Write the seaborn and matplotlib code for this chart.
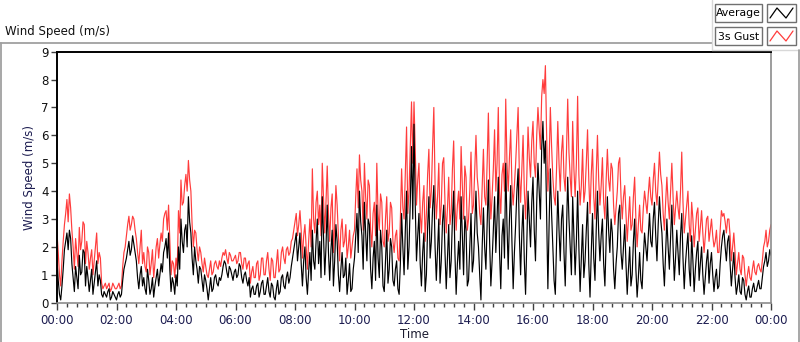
import numpy as np
import pandas as pd
import seaborn as sns
import matplotlib.pyplot as plt
from matplotlib.lines import Line2D
from matplotlib.patches import Rectangle

# ---- data (2.5-minute samples; one row per hour) ----
minutes = np.arange(0, 1440.1, 2.5)

avg = [
    1.5, 0.8, 0.3, 0.1, 0.6, 1.2, 1.9, 2.2, 2.5, 1.9, 2.6, 2.3, 1.4, 0.9, 0.4, 1.3, 0.9, 0.5, 1.7, 1.0, 1.1, 1.9, 1.8, 0.6,
    1.3, 0.9, 0.4, 0.8, 1.2, 0.3, 0.7, 1.1, 1.5, 0.6, 1.0, 0.8, 0.3, 0.2, 0.4, 0.3, 0.2, 0.4, 0.5, 0.1, 0.2, 0.4, 0.3, 0.2,
    0.1, 0.3, 0.4, 0.2, 0.3, 0.8, 1.2, 1.4, 1.6, 1.9, 2.2, 1.7, 1.9, 2.4, 2.1, 1.8, 1.5, 0.9, 0.5, 1.0, 1.3, 0.6, 0.9, 0.5,
    0.3, 1.2, 0.8, 0.3, 0.5, 0.9, 0.2, 0.6, 0.9, 1.2, 0.6, 1.0, 1.4, 1.1, 1.8, 2.0, 2.3, 1.6, 2.5, 1.2, 0.4, 0.9, 0.7, 0.3,
    1.0, 0.6, 2.0, 1.2, 3.0, 2.2, 1.8, 2.6, 2.8, 2.0, 3.8, 2.9, 2.5, 1.6, 1.0, 2.0, 1.5, 1.2, 0.7, 1.3, 1.2, 0.8, 0.4, 1.0,
    0.8, 0.5, 0.1, 0.5, 0.9, 0.4, 0.5, 0.9, 1.0, 0.7, 0.6, 0.9, 0.8, 1.0, 1.3, 1.5, 1.4, 1.1, 0.9, 1.3, 1.2, 1.0, 0.8, 1.1,
    1.2, 0.9, 1.0, 1.4, 1.3, 0.9, 0.7, 1.0, 1.1, 0.8, 0.6, 0.9, 0.2, 0.5, 0.6, 0.3, 0.3, 0.6, 0.7, 0.2, 0.4, 0.7, 0.8, 0.3,
    0.3, 0.6, 0.9, 0.4, 0.2, 0.7, 0.6, 0.2, 0.1, 0.5, 0.8, 0.3, 0.4, 0.9, 1.0, 0.6, 0.5, 0.9, 1.1, 0.7, 0.9, 1.3, 1.6, 1.9,
    2.2, 2.5, 1.5, 2.0, 2.5, 1.4, 0.6, 1.5, 2.0, 0.9, 0.3, 1.1, 1.8, 0.8, 2.6, 1.5, 1.2, 2.2, 3.0, 1.4, 2.2, 0.9, 3.8, 2.4,
    1.0, 2.0, 3.5, 1.8, 0.8, 1.9, 2.6, 0.6, 1.5, 2.8, 2.2, 1.0, 0.4, 1.2, 1.8, 0.9, 1.0, 1.6, 0.3, 0.8, 1.4, 0.4, 0.5, 1.2,
    1.6, 2.4, 3.2, 1.8, 4.0, 2.9, 2.4, 1.2, 3.6, 2.5, 1.5, 3.0, 2.8, 1.2, 0.5, 1.6, 2.2, 0.8, 3.5, 1.6, 0.9, 2.6, 2.0, 0.6,
    0.4, 1.5, 2.6, 0.7, 1.2, 2.3, 2.0, 0.8, 0.6, 1.2, 1.5, 0.5, 0.3, 1.4, 3.2, 2.0, 1.0, 2.6, 4.0, 1.2, 2.0, 3.6, 5.6, 3.0,
    6.4, 3.5, 1.5, 2.4, 3.2, 1.4, 0.6, 1.8, 2.5, 0.4, 1.0, 2.7, 3.8, 1.6, 2.2, 3.4, 4.2, 2.0, 0.8, 1.9, 3.0, 0.7, 1.5, 2.9,
    3.5, 1.8, 0.5, 1.6, 2.8, 0.9, 1.5, 3.0, 4.0, 1.8, 0.3, 1.4, 2.2, 1.2, 3.8, 2.4, 1.0, 3.1, 2.6, 0.6, 0.8, 2.0, 3.2, 1.1,
    1.5, 2.8, 4.0, 2.5, 2.0, 1.0, 0.1, 2.0, 3.4, 2.0, 1.2, 2.8, 4.4, 2.2, 0.6, 1.5, 2.6, 3.8, 1.8, 3.0, 4.5, 1.8, 0.5, 2.4,
    3.0, 1.6, 5.0, 2.8, 1.2, 3.0, 4.2, 2.2, 0.5, 1.8, 2.8, 4.0, 4.8, 2.4, 1.0, 2.5, 3.5, 1.5, 0.3, 2.2, 4.0, 3.0, 2.0, 3.6,
    4.5, 2.6, 1.5, 3.6, 5.0, 4.0, 3.0, 5.5, 6.5, 5.0, 5.8, 3.2, 0.5, 2.8, 4.8, 3.2, 2.0, 0.8, 0.3, 2.2, 4.0, 2.6, 1.5, 3.0,
    3.5, 1.8, 0.6, 2.5, 4.5, 3.0, 2.0, 1.0, 3.8, 2.4, 1.0, 2.2, 4.0, 2.0, 0.4, 1.6, 2.8, 0.9, 1.5, 2.6, 3.6, 1.4, 0.2, 1.8,
    3.2, 1.6, 0.8, 2.6, 4.0, 2.5, 1.5, 2.4, 3.0, 1.4, 0.6, 2.2, 3.8, 2.6, 1.8, 3.0, 2.5, 1.2, 0.5, 1.4, 2.0, 3.2, 3.5, 1.8,
    1.2, 2.0, 2.8, 1.4, 0.3, 1.2, 2.0, 0.6, 1.0, 2.2, 3.0, 1.2, 0.2, 0.9, 1.8, 0.8, 0.5, 1.6, 2.5, 2.0, 1.5, 2.4, 3.2, 2.2,
    2.0, 3.0, 3.6, 2.4, 1.5, 2.8, 3.8, 3.0, 2.5, 1.4, 0.6, 1.8, 3.0, 2.0, 1.2, 2.4, 3.5, 2.0, 0.8, 1.6, 2.6, 1.8, 1.0, 2.4,
    3.2, 1.6, 0.5, 1.4, 2.0, 2.5, 1.2, 0.6, 2.4, 1.5, 0.4, 1.2, 1.8, 2.2, 0.8, 1.4, 2.0, 1.0, 0.3, 0.9, 1.5, 1.9, 0.7, 1.4,
    1.8, 1.0, 0.4, 0.9, 1.2, 0.5, 0.6, 1.4, 2.0, 2.4, 2.6, 2.0, 1.5, 2.2, 2.4, 1.4, 0.6, 1.2, 1.8, 0.9, 0.3, 0.6, 1.0, 0.4,
    0.3, 0.9, 0.8, 0.3, 0.1, 0.4, 0.6, 0.2, 0.2, 0.5, 0.7, 0.4, 0.4, 0.6, 0.8, 0.5, 0.5, 0.9, 1.3, 1.5, 1.8, 1.3, 1.5, 1.9,
    1.7,
]

gust = [
    2.5, 1.8, 1.0, 0.6, 1.5, 2.2, 2.8, 3.2, 3.7, 2.9, 3.9, 3.4, 2.6, 2.0, 1.2, 2.3, 1.8, 1.3, 2.7, 1.9, 2.2, 2.9, 2.8, 1.4,
    2.2, 1.8, 1.2, 1.6, 1.9, 1.0, 1.5, 2.0, 2.5, 1.4, 1.8, 1.6, 0.7, 0.5, 0.6, 0.7, 0.5, 0.6, 0.7, 0.4, 0.5, 0.7, 0.6, 0.5,
    0.5, 0.6, 0.7, 0.5, 0.6, 1.3, 1.8, 2.0, 2.4, 2.8, 3.1, 2.6, 2.8, 3.1, 3.0, 2.6, 2.3, 1.8, 1.4, 2.0, 2.6, 1.4, 1.8, 1.3,
    1.1, 2.0, 1.8, 1.0, 1.4, 1.9, 0.9, 1.4, 2.0, 2.3, 1.6, 2.1, 2.5, 2.2, 3.0, 3.2, 3.3, 2.6, 3.5, 2.2, 1.0, 1.5, 1.4, 0.9,
    1.6, 1.2, 3.3, 2.5, 4.4, 3.5, 3.6, 4.2, 4.6, 4.0, 5.1, 4.4, 4.0, 2.8, 2.0, 2.6, 2.5, 1.9, 1.5, 2.0, 1.8, 1.4, 1.1, 1.6,
    1.3, 1.0, 0.9, 1.2, 1.5, 1.0, 1.1, 1.4, 1.5, 1.3, 1.2, 1.5, 1.3, 1.6, 1.8, 1.7, 1.9, 1.6, 1.4, 1.8, 1.7, 1.5, 1.5, 1.6,
    1.7, 1.4, 1.5, 1.8, 1.8, 1.4, 1.2, 1.6, 1.6, 1.2, 1.4, 1.5, 0.7, 1.1, 1.3, 0.9, 0.9, 1.4, 1.5, 0.8, 1.0, 1.6, 1.6, 1.0,
    1.0, 1.5, 1.8, 1.2, 0.8, 1.6, 1.5, 0.9, 0.9, 1.4, 1.9, 1.1, 1.2, 1.8, 2.0, 1.6, 1.4, 1.9, 2.0, 1.7, 1.8, 2.2, 2.3, 2.6,
    2.9, 3.2, 2.4, 2.8, 3.3, 2.6, 1.6, 2.4, 2.8, 2.0, 1.2, 2.2, 3.0, 2.0, 4.8, 3.0, 2.5, 3.6, 4.0, 2.8, 3.5, 2.4, 5.0, 3.8,
    2.5, 3.6, 4.9, 3.2, 2.2, 3.4, 3.9, 1.8, 2.8, 4.2, 3.5, 2.4, 1.5, 2.6, 3.0, 2.0, 2.2, 2.8, 1.6, 2.0, 2.6, 1.6, 2.0, 2.4,
    2.6, 3.8, 4.8, 3.4, 5.3, 4.4, 4.0, 2.6, 5.0, 3.8, 3.0, 4.4, 4.2, 2.6, 2.0, 3.2, 3.6, 2.4, 5.0, 3.2, 2.6, 3.9, 3.6, 2.2,
    2.0, 3.0, 3.8, 2.2, 2.5, 3.6, 3.4, 2.2, 1.8, 2.4, 2.6, 1.6, 1.5, 3.0, 4.8, 3.4, 3.0, 4.6, 6.3, 3.2, 4.0, 5.6, 7.2, 5.0,
    7.2, 5.5, 3.5, 4.4, 5.0, 3.2, 2.5, 3.6, 4.2, 2.2, 3.2, 4.6, 5.5, 3.4, 4.0, 5.6, 7.0, 4.2, 3.0, 3.8, 5.0, 2.8, 3.5, 5.0,
    5.2, 3.6, 2.5, 3.4, 4.5, 2.8, 3.2, 4.8, 5.8, 3.6, 2.6, 3.5, 4.0, 3.0, 5.6, 4.2, 3.0, 4.9, 4.5, 2.6, 3.0, 4.0, 5.4, 3.2,
    3.5, 4.8, 6.0, 4.5, 4.0, 3.2, 2.8, 4.2, 5.5, 3.8, 3.5, 5.0, 6.8, 4.4, 3.0, 3.8, 4.8, 6.2, 4.0, 5.0, 7.0, 4.0, 3.2, 4.6,
    5.0, 4.0, 7.3, 5.0, 4.0, 5.2, 6.2, 4.2, 3.5, 4.2, 5.0, 6.0, 7.0, 4.6, 3.6, 4.8, 6.0, 4.0, 3.0, 4.5, 6.3, 5.2, 4.5, 5.8,
    6.5, 5.0, 4.5, 6.0, 7.0, 6.2, 5.5, 7.4, 8.0, 7.5, 8.5, 6.0, 4.0, 5.0, 7.0, 5.6, 4.5, 3.8, 3.5, 4.8, 6.5, 5.0, 4.0, 5.4,
    6.0, 4.5, 4.0, 5.4, 7.3, 5.4, 4.5, 3.8, 6.5, 4.8, 3.8, 5.0, 7.4, 4.6, 3.5, 4.2, 5.5, 3.6, 4.0, 5.0, 6.2, 4.4, 3.2, 4.6,
    5.5, 3.8, 3.0, 4.6, 6.0, 4.4, 3.5, 4.2, 5.2, 3.6, 3.0, 4.4, 5.5, 4.4, 4.0, 5.0, 4.8, 3.5, 2.8, 3.4, 4.0, 5.0, 5.2, 3.8,
    3.0, 3.8, 4.2, 3.2, 2.2, 3.0, 3.8, 2.6, 2.8, 3.8, 4.5, 3.0, 2.0, 2.8, 3.5, 2.6, 2.5, 3.4, 4.0, 3.6, 3.2, 3.9, 4.5, 3.8,
    3.5, 4.4, 5.0, 4.0, 3.5, 4.4, 5.4, 4.6, 4.2, 3.2, 2.6, 3.6, 4.5, 3.6, 3.0, 4.0, 5.0, 3.8, 2.8, 3.4, 4.0, 3.4, 3.0, 4.0,
    5.4, 3.6, 2.5, 3.0, 3.5, 4.0, 2.8, 2.2, 3.6, 3.0, 2.0, 2.6, 3.2, 3.4, 2.2, 2.7, 3.3, 2.5, 1.8, 2.4, 3.0, 3.1, 2.2, 2.6,
    3.0, 2.4, 2.0, 2.2, 2.6, 1.8, 1.8, 2.6, 3.3, 3.1, 3.2, 2.9, 2.5, 3.0, 3.0, 2.4, 1.5, 2.0, 2.5, 1.8, 1.0, 1.4, 1.8, 1.2,
    1.0, 1.7, 1.6, 1.0, 0.6, 1.0, 1.3, 0.9, 0.8, 1.2, 1.5, 1.1, 1.0, 1.3, 1.4, 1.2, 1.1, 1.5, 2.0, 2.2, 2.6, 2.0, 2.2, 2.6,
    2.8,
]

xtick_hours = [0, 2, 4, 6, 8, 10, 12, 14, 16, 18, 20, 22, 24]
xtick_labels = ["00:00", "02:00", "04:00", "06:00", "08:00", "10:00", "12:00",
                "14:00", "16:00", "18:00", "20:00", "22:00", "00:00"]
ytick_vals = [0, 1, 2, 3, 4, 5, 6, 7, 8, 9]

# ---- plot ----
sns.set_theme(style="white")
plt.rcParams['font.family'] = ['DejaVu Sans']

W, H = 800, 342
fig = plt.figure(figsize=(W / 100, H / 100), dpi=100)
fig.patch.set_facecolor("white")


def fx(px):
    return px / W


def fy(py):
    return 1 - py / H


ax = fig.add_axes([fx(57), fy(302.7), fx(771) - fx(57), fy(51.7) - fy(302.7)])

df = pd.DataFrame({"hour": minutes / 60.0, "Average": avg, "3s Gust": gust})
sns.lineplot(data=df, x="hour", y="3s Gust", color="#ff3c3c", lw=0.85, ax=ax)
sns.lineplot(data=df, x="hour", y="Average", color="black", lw=0.85, ax=ax)

ax.set_xlim(0, 24)
ax.set_ylim(0, 9)
ax.set_xticks(xtick_hours)
ax.set_xticklabels(xtick_labels)
ax.set_xticks([h / 3 for h in range(0, 73)], minor=True)
ax.set_yticks(ytick_vals)
ax.set_yticklabels([str(v) for v in ytick_vals])

ax.tick_params(axis="x", which="major", direction="out", length=5, width=1,
               color="#404040", labelsize=8.5, labelcolor="#1c1c50", pad=3,
               bottom=True)
ax.tick_params(axis="x", which="minor", direction="out", length=3, width=1,
               color="#404040", bottom=True)
ax.tick_params(axis="y", which="major", direction="out", length=4, width=1,
               color="#404040", labelsize=8.5, labelcolor="#111111", pad=2,
               left=True)

for s in ["top", "left"]:
    ax.spines[s].set_color("black")
    ax.spines[s].set_linewidth(1.4)
for s in ["right", "bottom"]:
    ax.spines[s].set_color("#8c8c8c")
    ax.spines[s].set_linewidth(1.2)

ax.set_xlabel("Time", fontsize=8.5, color="#1c1c30", labelpad=1)
ax.set_ylabel("Wind Speed (m/s)", fontsize=8.5, color="#1c1c50", labelpad=4)
ax.grid(False)

# title label
fig.text(fx(5), fy(31), "Wind Speed (m/s)", fontsize=8.5, color="#111111",
         ha="left", va="center")

# outer frame
gray = "#a0a0a0"
fig.add_artist(Line2D([fx(0), fx(712)], [fy(42.5), fy(42.5)], color=gray, lw=1.3))
fig.add_artist(Line2D([fx(1), fx(1)], [fy(42.5), fy(342)], color=gray, lw=1.3))
fig.add_artist(Line2D([fx(712), fx(712)], [fy(0), fy(49.5)], color="#d8d8d8", lw=1))
fig.add_artist(Line2D([fx(712), fx(800)], [fy(49.5), fy(49.5)], color="#d8d8d8", lw=1))
fig.add_artist(Line2D([fx(798.5), fx(798.5)], [fy(49.5), fy(342)], color=gray, lw=1.3))


# legend boxes
def legend_row(y0, label, color):
    fig.add_artist(Rectangle((fx(715), fy(y0 + 18)), fx(762) - fx(715), fy(y0) - fy(y0 + 18),
                             transform=fig.transFigure, fill=False,
                             edgecolor="#707070", lw=1))
    fig.text(fx(738.5), fy(y0 + 9.5), label, fontsize=7.8, color="black",
             ha="center", va="center")
    fig.add_artist(Rectangle((fx(767), fy(y0 + 18)), fx(796) - fx(767), fy(y0) - fy(y0 + 18),
                             transform=fig.transFigure, fill=False,
                             edgecolor="#707070", lw=1))
    fig.add_artist(Line2D([fx(770), fx(777), fx(786), fx(793)],
                          [fy(y0 + 14), fy(y0 + 4), fy(y0 + 14), fy(y0 + 4)],
                          color=color, lw=0.9))


legend_row(4, "Average", "black")
legend_row(27, "3s Gust", "#ff3c3c")

fig.savefig("out.png", dpi=100, facecolor="white")
